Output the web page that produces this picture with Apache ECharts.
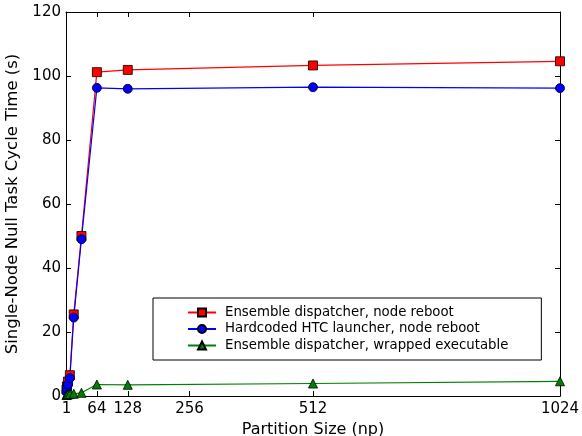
<!DOCTYPE html>
<html><head><meta charset="utf-8">
<script src="https://cdn.jsdelivr.net/npm/echarts@6/dist/echarts.min.js"></script>
<style>html,body{margin:0;padding:0;background:#fff}#c{width:582px;height:436px}</style>
</head><body><div id="c"></div>
<script>
const xValues = [1, 2, 4, 8, 16, 32, 64, 128, 512, 1024];
const ensembleReboot = [2.0, 3.0, 4.5, 6.5, 25.5, 50.0, 101.2, 101.9, 103.3, 104.6];
const htcReboot = [1.3, 2.3, 3.6, 5.6, 24.5, 49.0, 96.3, 96.0, 96.5, 96.2];
const ensembleWrapped = [0.3, 0.4, 0.5, 0.6, 0.7, 1.0, 3.6, 3.5, 3.9, 4.6];
const xTicks = [1, 64, 128, 256, 512, 1024];
const seriesNames = ['Ensemble dispatcher, node reboot', 'Hardcoded HTC launcher, node reboot', 'Ensemble dispatcher, wrapped executable'];

const pair = arr => xValues.map((x, i) => [x, arr[i]]);
const font = 'DejaVu Sans';
const mk = (name, data, color, symbol, size) => ({
  name, type: 'line', data: pair(data), symbol, symbolSize: size,
  lineStyle: { color, width: 1.2 }, itemStyle: { color, borderColor: '#000', borderWidth: 0.8 },
  emphasis: { disabled: true }, animation: false, z: 3
});
const chart = echarts.init(document.getElementById('c'), null, { renderer: 'canvas' });
const axisCommon = {
  axisLine: { show: true, onZero: false, lineStyle: { color: '#000', width: 1 } },
  axisTick: { show: true, inside: true, length: 5, lineStyle: { color: '#000' } },
  splitLine: { show: false }
};
chart.setOption({
  animation: false,
  backgroundColor: '#fff',
  grid: { left: 66, right: 22, top: 12, bottom: 40, outerBoundsMode: 'none', containLabel: false },
  legend: {
    left: 153, top: 298, orient: 'vertical',
    padding: [8, 33, 8, 34], itemGap: 3.5, itemWidth: 28, itemHeight: 10,
    backgroundColor: '#fff', borderColor: '#000', borderWidth: 1,
    textStyle: { fontFamily: font, fontSize: 13.3, color: '#000', padding: [0, 0, 0, 4] },
    data: seriesNames
  },
  xAxis: [{
    type: 'value', min: 0, max: 1024, position: 'bottom',
    name: 'Partition Size (np)', nameLocation: 'middle', nameGap: 22,
    nameTextStyle: { fontFamily: font, fontSize: 16, color: '#000' },
    ...axisCommon,
    axisTick: { ...axisCommon.axisTick, customValues: xTicks },
    axisLabel: { customValues: xTicks, formatter: v => String(v), fontFamily: font, fontSize: 15, color: '#000', margin: 6 }
  }, {
    type: 'value', min: 0, max: 1024, position: 'top',
    ...axisCommon,
    axisTick: { ...axisCommon.axisTick, customValues: xTicks },
    axisLabel: { show: false }
  }],
  yAxis: [{
    type: 'value', min: 0, max: 120, interval: 20, position: 'left',
    name: 'Single-Node Null Task Cycle Time (s)', nameLocation: 'middle', nameGap: 33,
    nameTextStyle: { fontFamily: font, fontSize: 16.5, color: '#000' },
    ...axisCommon,
    axisLabel: { fontFamily: font, fontSize: 15, color: '#000', margin: 5 }
  }, {
    type: 'value', min: 0, max: 120, interval: 20, position: 'right',
    ...axisCommon,
    axisLabel: { show: false }
  }],
  series: [
    mk(seriesNames[0], ensembleReboot, '#ff0000', 'rect', 9),
    mk(seriesNames[1], htcReboot, '#0000ff', 'circle', 9),
    mk(seriesNames[2], ensembleWrapped, '#008000', 'triangle', 9)
  ]
});
</script></body></html>
